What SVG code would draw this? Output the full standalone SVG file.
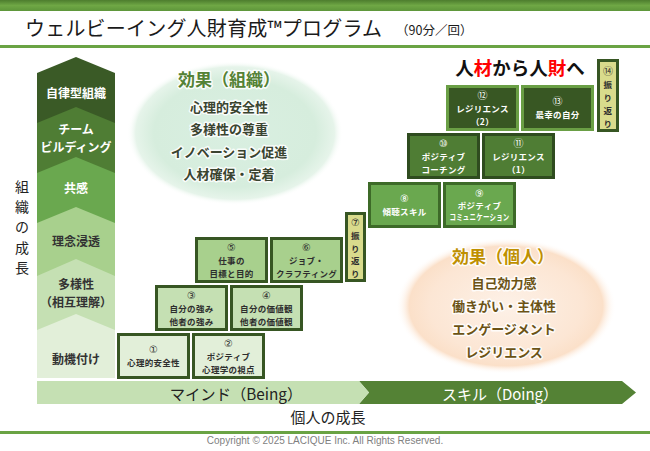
<svg xmlns="http://www.w3.org/2000/svg" width="650" height="451" viewBox="0 0 650 451">
<defs>
<linearGradient id="topband" x1="0" y1="0" x2="0" y2="1">
<stop offset="0" stop-color="#4d7d2e"/><stop offset="0.5" stop-color="#6fa745"/><stop offset="1" stop-color="#5e963a"/>
</linearGradient>
<radialGradient id="gEll" cx="0.5" cy="0.5" r="0.5">
<stop offset="0" stop-color="#d9efe1"/><stop offset="0.75" stop-color="#d6eddd"/><stop offset="0.92" stop-color="#e6f4ea"/><stop offset="1" stop-color="#ffffff" stop-opacity="0"/>
</radialGradient>
<radialGradient id="oEll" cx="0.5" cy="0.5" r="0.5">
<stop offset="0" stop-color="#fdf1e7"/><stop offset="0.7" stop-color="#fce6d4"/><stop offset="0.88" stop-color="#fbe0c9"/><stop offset="1" stop-color="#ffffff" stop-opacity="0"/>
</radialGradient>
</defs>
<style>
.jp{font-family:"Noto Sans CJK JP","Noto Sans",sans-serif}
.col{font-family:"Noto Sans CJK JP",sans-serif;font-size:12px;font-weight:bold;text-anchor:middle;dominant-baseline:central}
.cw{fill:#ffffff}
.cd{fill:#333333}
.bx{font-family:"Noto Sans CJK JP",sans-serif;font-size:8.5px;font-weight:bold;letter-spacing:0.3px;text-anchor:middle;dominant-baseline:central}
.n{font-family:"DejaVu Sans","Noto Sans CJK JP",sans-serif;font-size:10px;font-weight:normal;letter-spacing:0}
.bl{fill:#2e2e2e}
.bw{fill:#ffffff}
.b1{fill:#e2efd9;stroke:#375623;stroke-width:3}
.b2{fill:#c5e0b3;stroke:#375623;stroke-width:3}
.b3{fill:#a8d08d;stroke:#375623;stroke-width:3}
.b4{fill:#6aa84f;stroke:#3d6a28;stroke-width:3}
.b5{fill:#4f7d34;stroke:#2f4c1f;stroke-width:3}
.b6{fill:#385723;stroke:#6a9f45;stroke-width:3}
.by{fill:#d9db8c;stroke:#375623;stroke-width:3}
.eg{font-family:"Noto Sans CJK JP",sans-serif;font-weight:bold;text-anchor:middle;dominant-baseline:central;stroke:#ffffff;stroke-width:3;stroke-opacity:0.85;paint-order:stroke;stroke-linejoin:round}
</style>
<rect x="0" y="0" width="650" height="451" fill="#ffffff"/>
<rect x="0" y="0" width="650" height="11" fill="url(#topband)"/>
<rect x="0" y="45" width="650" height="3" fill="#6aa344"/>
<rect x="0" y="431" width="650" height="3" fill="#6aa344"/>
<text class="jp" x="25" y="36" font-size="20" letter-spacing="0.2" fill="#1a1a1a">ウェルビーイング人財育成™プログラム</text>
<text class="jp" x="396" y="35" font-size="12.5" fill="#1a1a1a">（90分／回）</text>

<g id="growth-org-column">
<polygon points="37,73 76,57 115,73 115,378 37,378" fill="#3a5a26"/>
<polygon points="37,123 76,107 115,123 115,378 37,378" fill="#4f7d34"/>
<polygon points="37,173 76,157 115,173 115,378 37,378" fill="#6aa84f"/>
<polygon points="37,223 76,207 115,223 115,378 37,378" fill="#a8d08d"/>
<polygon points="37,276 76,259 115,276 115,378 37,378" fill="#c5e0b3"/>
<polygon points="37,330 76,314 115,330 115,378 37,378" fill="#e2efd9"/>
<text class="col cw" x="76" y="92">自律型組織</text>
<text class="col cw" x="76" y="128">チーム</text>
<text class="col cw" x="76" y="146">ビルディング</text>
<text class="col cw" x="76" y="187">共感</text>
<text class="col cd" x="76" y="240">理念浸透</text>
<text class="col cd" x="76" y="283">多様性</text>
<text class="col cd" x="76" y="301">（相互理解）</text>
<text class="col cd" x="76" y="358" font-size="13">動機付け</text>
</g>

<g id="org-growth-label" class="jp" font-size="14" fill="#222222" text-anchor="middle">
<text x="22" y="192">組</text>
<text x="22" y="212">織</text>
<text x="22" y="232">の</text>
<text x="22" y="253">成</text>
<text x="22" y="273">長</text>
</g>

<g id="effect-org">
<ellipse cx="235" cy="133" rx="108" ry="72" fill="url(#gEll)"/>
<text class="eg" x="229" y="78" font-size="17" fill="#548235">効果（組織）</text>
<text class="eg" x="229" y="106" font-size="13" fill="#3a4430">心理的安全性</text>
<text class="eg" x="229" y="128.5" font-size="13" fill="#3a4430">多様性の尊重</text>
<text class="eg" x="229" y="151" font-size="13" fill="#3a4430">イノベーション促進</text>
<text class="eg" x="229" y="173.5" font-size="13" fill="#3a4430">人材確保・定着</text>
</g>

<g id="effect-person">
<ellipse cx="506" cy="306" rx="110" ry="68" fill="url(#oEll)"/>
<text class="eg" x="503" y="255" font-size="17" fill="#bf9000">効果（個人）</text>
<text class="eg" x="504" y="282" font-size="13" fill="#6b5315">自己効力感</text>
<text class="eg" x="504" y="305" font-size="13" fill="#6b5315">働きがい・主体性</text>
<text class="eg" x="504" y="328" font-size="13" fill="#6b5315">エンゲージメント</text>
<text class="eg" x="504" y="351" font-size="13" fill="#6b5315">レジリエンス</text>
</g>

<g id="headline">
<text class="jp" x="520" y="75" font-size="18.5" font-weight="bold" text-anchor="middle" fill="#111111">人<tspan fill="#ff0000">材</tspan>から人<tspan fill="#ff0000">財</tspan>へ</text>
</g>

<g id="s1"><rect class="b1" x="118.5" y="334.5" width="70" height="43"/>
<text class="bx bl n" x="153.5" y="349.5">①</text><text class="bx bl" x="153.5" y="362">心理的安全性</text></g>
<g id="s2"><rect class="b1" x="193.5" y="334.5" width="70" height="43"/>
<text class="bx bl n" x="228.5" y="343.5">②</text><text class="bx bl" x="228.5" y="356">ポジティブ</text><text class="bx bl" x="228.5" y="368.5">心理学の視点</text></g>
<g id="s3"><rect class="b2" x="156.5" y="286.5" width="70" height="43"/>
<text class="bx bl n" x="191.5" y="295.5">③</text><text class="bx bl" x="191.5" y="308">自分の強み</text><text class="bx bl" x="191.5" y="320.5">他者の強み</text></g>
<g id="s4"><rect class="b2" x="231.5" y="286.5" width="70" height="43"/>
<text class="bx bl n" x="266.5" y="295.5">④</text><text class="bx bl" x="266.5" y="308">自分の価値観</text><text class="bx bl" x="266.5" y="320.5">他者の価値観</text></g>
<g id="s5"><rect class="b3" x="196.5" y="238.5" width="70" height="43"/>
<text class="bx bl n" x="231.5" y="247.5">⑤</text><text class="bx bl" x="231.5" y="260">仕事の</text><text class="bx bl" x="231.5" y="272.5">目標と目的</text></g>
<g id="s6"><rect class="b3" x="271.5" y="238.5" width="70" height="43"/>
<text class="bx bl n" x="306.5" y="247.5">⑥</text><text class="bx bl" x="306.5" y="260">ジョブ・</text><text class="bx bl" x="306.5" y="272.5">クラフティング</text></g>
<g id="s7"><rect class="by" x="346.5" y="213.5" width="18" height="67"/>
<text class="bx bl n" x="355.5" y="222">⑦</text><text class="bx bl" x="355.5" y="235">振</text><text class="bx bl" x="355.5" y="247.5">り</text><text class="bx bl" x="355.5" y="260">返</text><text class="bx bl" x="355.5" y="272.5">り</text></g>
<g id="s8"><rect class="b4" x="369.5" y="183.5" width="70" height="43"/>
<text class="bx bw n" x="404.5" y="198.5">⑧</text><text class="bx bw" x="404.5" y="211">傾聴スキル</text></g>
<g id="s9"><rect class="b4" x="444.5" y="183.5" width="70" height="43"/>
<text class="bx bw n" x="479.5" y="193" font-size="9.5">⑨</text><text class="bx bw" x="479.5" y="204.5" font-size="7.5">ポジティブ</text><text class="bx bw" x="479.5" y="216" font-size="7" letter-spacing="0" textLength="60" lengthAdjust="spacingAndGlyphs">コミュニケーション</text></g>
<g id="s10"><rect class="b5" x="408.5" y="134.5" width="70" height="43"/>
<text class="bx bw n" x="443.5" y="143.5">⑩</text><text class="bx bw" x="443.5" y="156">ポジティブ</text><text class="bx bw" x="443.5" y="168.5">コーチング</text></g>
<g id="s11"><rect class="b5" x="483.5" y="134.5" width="70" height="43"/>
<text class="bx bw n" x="518.5" y="143.5">⑪</text><text class="bx bw" x="518.5" y="156">レジリエンス</text><text class="bx bw" x="518.5" y="168.5">（1）</text></g>
<g id="s12"><rect class="b6" x="447.5" y="86.5" width="70" height="43"/>
<text class="bx bw n" x="482.5" y="95.5">⑫</text><text class="bx bw" x="482.5" y="108">レジリエンス</text><text class="bx bw" x="482.5" y="120.5">（2）</text></g>
<g id="s13"><rect class="b6" x="522.5" y="86.5" width="70" height="43"/>
<text class="bx bw n" x="557.5" y="101.5">⑬</text><text class="bx bw" x="557.5" y="114">最幸の自分</text></g>
<g id="s14"><rect class="by" x="598.5" y="60.5" width="19" height="70"/>
<text class="bx bl n" x="608" y="71">⑭</text><text class="bx bl" x="608" y="84">振</text><text class="bx bl" x="608" y="97">り</text><text class="bx bl" x="608" y="110">返</text><text class="bx bl" x="608" y="123">り</text></g>

<g id="connectors"></g>

<g id="growth-person-bar">
<polygon points="359,381 622,381 636,392.5 622,404 359,404 369,392.5" fill="#548235"/>
<polygon points="37,381 359,381 369,392.5 359,404 37,404" fill="#c5e0b3"/>
<text class="jp" x="236" y="393" font-size="15.3" fill="#222222" text-anchor="middle" dominant-baseline="central">マインド（Being）</text>
<text class="jp" x="500" y="393" font-size="15" fill="#ffffff" text-anchor="middle" dominant-baseline="central">スキル（Doing）</text>
</g>
<text class="jp" x="328" y="416" font-size="15" fill="#222222" text-anchor="middle" dominant-baseline="central">個人の成長</text>
<text x="325" y="444" font-family="'Liberation Sans',Arial,sans-serif" font-size="10" fill="#7f7f7f" text-anchor="middle">Copyright © 2025  LACIQUE Inc. All Rights Reserved.</text>
</svg>
